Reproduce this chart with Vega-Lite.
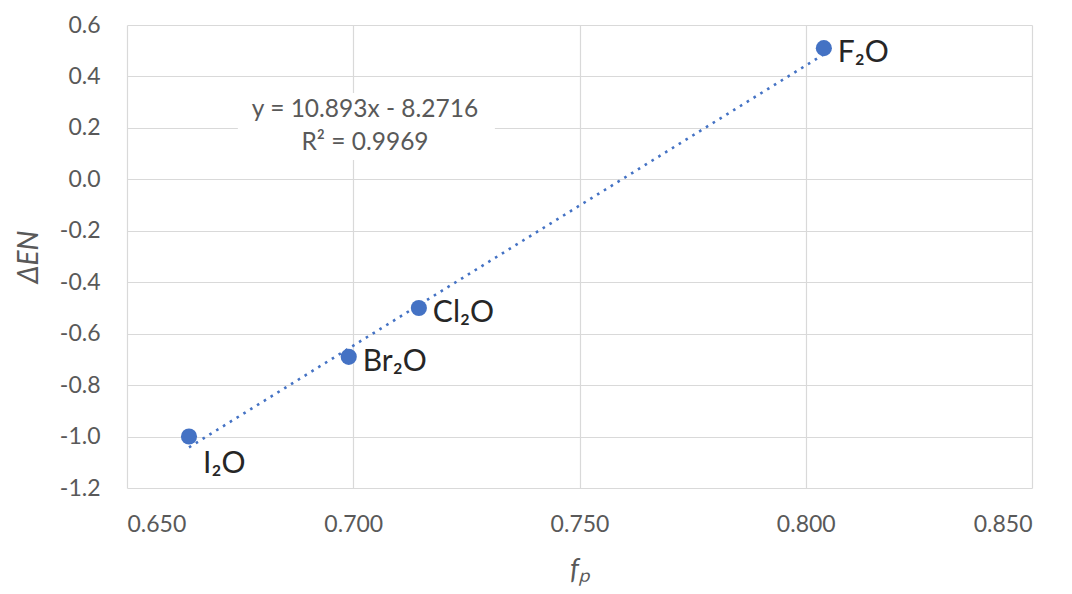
{
  "$schema": "https://vega.github.io/schema/vega-lite/v6.json",
  "autosize": "none",
  "width": 905,
  "height": 463,
  "padding": {"left": 127, "top": 25, "right": 40, "bottom": 106},
  "background": "white",
  "config": {
    "view": {"stroke": null},
    "font": "Lato",
    "axis": {
      "domain": false,
      "ticks": false,
      "tickSize": 0,
      "gridColor": "#d9d9d9",
      "gridWidth": 1.2,
      "labelColor": "#595959",
      "labelFontSize": 23,
      "labelFont": "Lato",
      "titleColor": "#595959",
      "titleFont": "Lato",
      "titleFontSize": 28,
      "titleFontStyle": "italic",
      "titleFontWeight": "normal"
    }
  },
  "datasets": {
    "points": [
      {"name": "I₂O", "fp": 0.6637, "den": -1.0},
      {"name": "Br₂O", "fp": 0.699, "den": -0.69},
      {"name": "Cl₂O", "fp": 0.7145, "den": -0.5},
      {"name": "F₂O", "fp": 0.804, "den": 0.51}
    ],
    "trend": [
      {"fp": 0.6637, "den": -1.042},
      {"fp": 0.804, "den": 0.486}
    ],
    "eqbox": [
      {"x1": 0.6745, "x2": 0.7313, "y1": 0.336, "y2": 0.075}
    ],
    "eqtext": [
      {"text": "y = 10.893x - 8.2716", "x": 0.7026, "y": 0.27},
      {"text": "R² = 0.9969", "x": 0.7026, "y": 0.141}
    ]
  },
  "encoding": {
    "x": {
      "field": "fp",
      "type": "quantitative",
      "scale": {"domain": [0.65, 0.85], "nice": false, "zero": false},
      "axis": {
        "title": "fₚ",
        "values": [0.65, 0.7, 0.75, 0.8, 0.85],
        "labelExpr": "replace(format(datum.value, '.3f'), '−', '-')",
        "labelPadding": 25,
        "titlePadding": 20
      }
    },
    "y": {
      "field": "den",
      "type": "quantitative",
      "scale": {"domain": [-1.2, 0.6], "nice": false, "zero": false},
      "axis": {
        "title": "ΔEN",
        "values": [-1.2, -1.0, -0.8, -0.6, -0.4, -0.2, 0.0, 0.2, 0.4, 0.6],
        "labelExpr": "replace(format(datum.value, '.1f'), '−', '-')",
        "labelPadding": 27,
        "titlePadding": 16
      }
    }
  },
  "layer": [
    {
      "data": {"name": "eqbox"},
      "mark": {"type": "rect", "fill": "white"},
      "encoding": {
        "x": {"field": "x1", "type": "quantitative"},
        "x2": {"field": "x2"},
        "y": {"field": "y1", "type": "quantitative"},
        "y2": {"field": "y2"}
      }
    },
    {
      "data": {"name": "eqtext"},
      "mark": {"type": "text", "fontSize": 24.5, "color": "#595959", "font": "Lato", "align": "center", "baseline": "middle"},
      "encoding": {
        "x": {"field": "x", "type": "quantitative"},
        "y": {"field": "y", "type": "quantitative"},
        "text": {"field": "text"}
      }
    },
    {
      "data": {"name": "trend"},
      "mark": {"type": "line", "color": "#4472C4", "strokeWidth": 2.6, "strokeDash": [2.6, 5.4]},
      "encoding": {}
    },
    {
      "data": {"name": "points"},
      "mark": {"type": "point", "filled": true, "opacity": 1, "size": 260, "color": "#4472C4"},
      "encoding": {}
    },
    {
      "data": {"name": "points"},
      "transform": [{"filter": "datum.name != 'I₂O'"}],
      "mark": {"type": "text", "align": "left", "baseline": "middle", "dx": 14, "dy": 5, "fontSize": 30, "font": "Lato", "color": "#262626"},
      "encoding": {"text": {"field": "name"}}
    },
    {
      "data": {"name": "points"},
      "transform": [{"filter": "datum.name == 'I₂O'"}],
      "mark": {"type": "text", "align": "left", "baseline": "middle", "dx": 14, "dy": 27, "fontSize": 30, "font": "Lato", "color": "#262626"},
      "encoding": {"text": {"field": "name"}}
    }
  ]
}
